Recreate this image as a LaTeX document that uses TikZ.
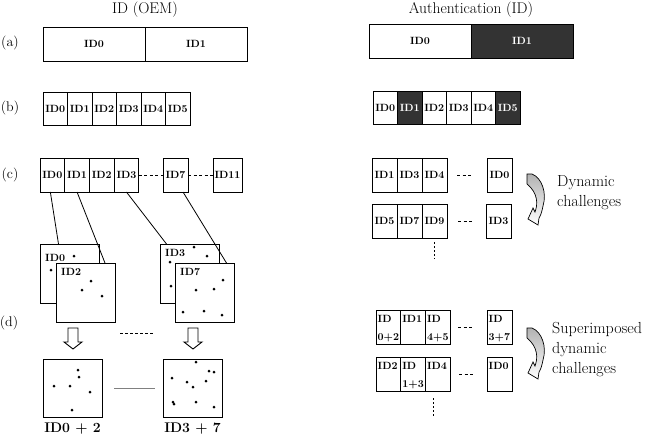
\documentclass[tikz,border=0pt]{standalone}
\usepackage{xcolor}
\usepackage{tikz}
\usetikzlibrary{positioning}

\begin{document}
\begin{tikzpicture}[x=1pt, y=-1pt,
    celda/.style = {draw, line width=0.9pt, minimum width=24.7, minimum height=34,
                    inner sep=0pt, outer sep=0pt, font=\fontsize{10.5}{12}\selectfont\bfseries},
    oscura/.style = {fill=black!80, text=white},
    carta/.style = {draw, line width=0.9pt, fill=white, minimum width=59, minimum height=59,
                    inner sep=0pt, outer sep=0pt},
    rotulo/.style = {font=\fontsize{10.5}{12}\selectfont\bfseries, inner sep=0pt, anchor=west},
    doble/.style = {font=\fontsize{10.5}{18}\selectfont\bfseries, inner sep=0pt,
                    align=left, anchor=north west},
    guiones/.style = {line width=0.9pt, dash pattern=on 3pt off 2.5pt},
    flechacurva/.style = {draw, line width=0.7pt, top color=black!30, bottom color=white},
    flechahueca/.style = {draw, line width=0.9pt, fill=white}
]
    \useasboundingbox (0,0) rectangle (652,437);

    % Titulos
    \node[font=\fontsize{15.5}{18}\selectfont] (tit1) at (145,10) {ID (OEM)};
    \node[font=\fontsize{15.5}{18}\selectfont] (tit2) at (471,10) {Authentication (ID)};

    % Letras de las filas
    \node[font=\fontsize{14}{16}\selectfont] (la) at (10,43) {(a)};
    \node[font=\fontsize{14}{16}\selectfont] (lb) at (10,108) {(b)};
    \node[font=\fontsize{14}{16}\selectfont] (lc) at (10,175) {(c)};
    \node[font=\fontsize{14}{16}\selectfont] (ld) at (9,323) {(d)};

    % Fila (a)
    \node[celda, minimum width=102] (a0) at (94,44) {ID0};
    \node[celda, minimum width=102, right=0pt of a0] (a1) {ID1};
    \node[celda, minimum width=102] (ra0) at (420,41) {ID0};
    \node[celda, oscura, minimum width=102, right=0pt of ra0] (ra1) {ID1};

    % Fila (b)
    \node[celda, minimum width=24.5, minimum height=33] (b0) at (55.25,108.5) {ID0};
    \node[celda, minimum width=24.5, minimum height=33, right=0pt of b0] (b1) {ID1};
    \node[celda, minimum width=24.5, minimum height=33, right=0pt of b1] (b2) {ID2};
    \node[celda, minimum width=24.5, minimum height=33, right=0pt of b2] (b3) {ID3};
    \node[celda, minimum width=24.5, minimum height=33, right=0pt of b3] (b4) {ID4};
    \node[celda, minimum width=24.5, minimum height=33, right=0pt of b4] (b5) {ID5};

    \node[celda, minimum width=24.5, minimum height=33] (rb0) at (385.25,107.5) {ID0};
    \node[celda, oscura, minimum width=24.5, minimum height=33, right=0pt of rb0] (rb1) {ID1};
    \node[celda, minimum width=24.5, minimum height=33, right=0pt of rb1] (rb2) {ID2};
    \node[celda, minimum width=24.5, minimum height=33, right=0pt of rb2] (rb3) {ID3};
    \node[celda, minimum width=24.5, minimum height=33, right=0pt of rb3] (rb4) {ID4};
    \node[celda, oscura, minimum width=24.5, minimum height=33, right=0pt of rb4] (rb5) {ID5};

    % Fila (c), lado OEM
    \node[celda] (c0) at (52.35,175) {ID0};
    \node[celda, right=0pt of c0] (c1) {ID1};
    \node[celda, right=0pt of c1] (c2) {ID2};
    \node[celda, right=0pt of c2] (c3) {ID3};
    \node[celda, minimum width=25] (c7) at (175.5,175) {ID7};
    \node[celda, minimum width=29] (c11) at (227.5,175) {ID11};
    \draw[guiones] (c3.east) -- (c7.west);
    \draw[guiones] (c7.east) -- (c11.west);

    % Patrones de puntos
    \node[carta] (pA) at (70,273.5) {};
    \node[rotulo] (tA) at (45,258) {ID0};
    \fill (74,256) circle (1.5); \fill (51,270) circle (1.5);
    \node[carta] (pB) at (85.5,292.5) {};
    \node[rotulo] (tB) at (61,272) {ID2};
    \fill (91,281) circle (1.5); \fill (82,290) circle (1.5); \fill (102,296) circle (1.5);

    \node[carta] (pC) at (190,273.5) {};
    \node[rotulo] (tC) at (165,253) {ID3};
    \fill (194,247) circle (1.5); \fill (207,256) circle (1.5);
    \fill (170,262) circle (1.5); \fill (171,286) circle (1.5);
    \node[carta] (pD) at (205,292.5) {};
    \node[rotulo] (tD) at (180,272) {ID7};
    \fill (223,280) circle (1.5); \fill (196,290) circle (1.5); \fill (214,289) circle (1.5);
    \fill (183,312) circle (1.5); \fill (204,311) circle (1.5); \fill (222,315) circle (1.5);

    % Lineas de las celdas a los patrones
    \draw[line width=0.8pt] ([xshift=-2pt]c0.south) -- ([xshift=18pt]pA.north west);
    \draw[line width=0.8pt] (c1.south) -- ([xshift=-10pt]pB.north east);
    \draw[line width=0.8pt] (c3.south) -- ([xshift=6pt]pC.north west);
    \draw[line width=0.8pt] ([xshift=7.5pt]c7.south) -- ([xshift=-8pt]pD.north east);

    % Flechas huecas
    \draw[flechahueca] (68,328) -- (78,328) -- (78,342) -- (82,342) -- (73,349) -- (64,342) -- (68,342) -- cycle;
    \draw[flechahueca] (188,328) -- (198,328) -- (198,342) -- (202,342) -- (193,349) -- (184,342) -- (188,342) -- cycle;
    \draw[guiones, dash pattern=on 3pt off 2pt] (120,333) -- (153,333);

    % Patrones superpuestos
    \node[carta, minimum height=58] (s1) at (72.5,388) {};
    \fill (78,370) circle (1.5); \fill (79,377) circle (1.5); \fill (54,386) circle (1.5);
    \fill (70,386) circle (1.5); \fill (90,392) circle (1.5); \fill (72,410) circle (1.5);
    \node[carta, minimum height=58] (s2) at (192.5,388) {};
    \fill (196,362) circle (1.5); \fill (209,371) circle (1.5); \fill (214,372) circle (1.5);
    \fill (172,378) circle (1.5); \fill (187,382) circle (1.5); \fill (206,381) circle (1.5);
    \fill (193,387) circle (1.5); \fill (173,402) circle (1.5); \fill (174,404) circle (1.5);
    \fill (196,402) circle (1.5); \fill (214,407) circle (1.5);
    \draw[gray, line width=0.6pt] ([xshift=12pt]s1.east) -- ([xshift=-8pt]s2.west);
    \node[font=\fontsize{14}{16}\selectfont\bfseries] (n1) at (72.5,429) {ID0 + 2};
    \node[font=\fontsize{14}{16}\selectfont\bfseries] (n2) at (192.5,429) {ID3 + 7};

    % Fila (c), autenticacion
    \node[celda, minimum width=25] (r1) at (384.5,175) {ID1};
    \node[celda, minimum width=25, right=0pt of r1] (r3) {ID3};
    \node[celda, minimum width=25, right=0pt of r3] (r4) {ID4};
    \node[celda, minimum width=25] (r0) at (499.5,175) {ID0};
    \draw[guiones] ([xshift=10pt]r4.east) -- ([xshift=-16pt]r0.west);
    \node[celda, minimum width=25] (r5) at (384.5,221) {ID5};
    \node[celda, minimum width=25, right=0pt of r5] (r7) {ID7};
    \node[celda, minimum width=25, right=0pt of r7] (r9) {ID9};
    \node[celda, minimum width=25] (r3b) at (498.5,221) {ID3};
    \draw[guiones] ([xshift=11pt]r9.east) -- ([xshift=-13pt]r3b.west);
    \draw[line width=0.9pt, dash pattern=on 2pt off 2pt] ([yshift=-4pt]r9.south) -- ([yshift=-21pt]r9.south);
    \path[flechacurva, shift={(527,173)}] (0,1) -- (5,1) .. controls (15,5) and (20,20) .. (16,33)
        .. controls (15,38) and (14,42) .. (12,45) -- (11,52) -- (1,46) -- (6,35) -- (8,39)
        .. controls (11,31) and (11,20) .. (0,11) -- cycle;
    \node[font=\fontsize{16}{20}\selectfont, align=left, anchor=west, inner sep=0pt] (dyn) at (557,193) {Dynamic\\challenges};

    % Fila (d), autenticacion
    \node[celda] (d0) at (388.35,327) {};
    \node[celda, right=0pt of d0] (d1) {};
    \node[celda, right=0pt of d1] (d2) {};
    \node[celda, minimum width=25] (d3) at (499.5,327) {};
    \node[doble] (u0) at ([xshift=1.5pt,yshift=-5.5pt]d0.north west) {ID\\0+2};
    \node[doble] (u1) at ([xshift=1.5pt,yshift=-5.5pt]d1.north west) {ID1};
    \node[doble] (u2) at ([xshift=1.5pt,yshift=-5.5pt]d2.north west) {ID\\4+5};
    \node[doble] (u3) at ([xshift=1.5pt,yshift=-5.5pt]d3.north west) {ID\\3+7};
    \draw[guiones] ([xshift=8pt]d2.east) -- ([xshift=-14pt]d3.west);

    \node[celda] (e0) at (388.35,374) {};
    \node[celda, right=0pt of e0] (e1) {};
    \node[celda, right=0pt of e1] (e2) {};
    \node[celda, minimum width=25] (e3) at (499.5,374) {};
    \node[doble] (v0) at ([xshift=1.5pt,yshift=-5.5pt]e0.north west) {ID2};
    \node[doble] (v1) at ([xshift=1.5pt,yshift=-5.5pt]e1.north west) {ID\\1+3};
    \node[doble] (v2) at ([xshift=1.5pt,yshift=-5.5pt]e2.north west) {ID4};
    \node[doble] (v3) at ([xshift=1.5pt,yshift=-5.5pt]e3.north west) {ID0};
    \draw[guiones] ([xshift=9pt]e2.east) -- ([xshift=-13pt]e3.west);
    \draw[line width=0.9pt, dash pattern=on 2pt off 2pt] ([xshift=-4pt,yshift=-7pt]e2.south) -- ([xshift=-4pt,yshift=-26pt]e2.south);
    \path[flechacurva, shift={(527,327)}] (0,1) -- (5,1) .. controls (15,5) and (20,20) .. (16,33)
        .. controls (15,38) and (14,42) .. (12,45) -- (11,52) -- (1,46) -- (6,35) -- (8,39)
        .. controls (11,31) and (11,20) .. (0,11) -- cycle;
    \node[font=\fontsize{16}{20}\selectfont, align=left, anchor=west, inner sep=0pt] (sup) at (552,350) {Superimposed\\dynamic\\challenges};

\end{tikzpicture}
\end{document}
